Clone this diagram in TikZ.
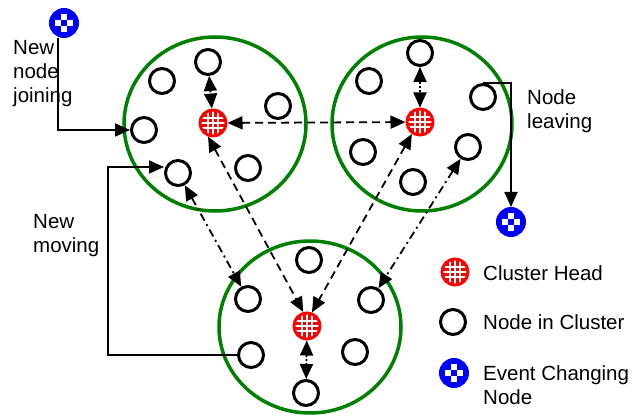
\documentclass[tikz,border=0pt]{standalone}
\usepackage{fontspec}
\setmainfont{Liberation Sans}
\usetikzlibrary{arrows.meta,calc}
\definecolor{grn}{RGB}{0,128,0}
\begin{document}
\begin{tikzpicture}[x=1pt,y=-1pt,
  cluster/.style={draw=grn,line width=3.5pt},
  nd/.style={circle,draw=black,line width=3pt,minimum size=25pt,inner sep=0pt},
  chead/.style={circle,draw=red,fill=red,line width=3pt,minimum size=26pt,inner sep=0pt,
    path picture={
      \foreach \d in {-5,0,5}{
        \draw[white,line width=1.1pt] ([xshift=\d pt]path picture bounding box.south) -- ([xshift=\d pt]path picture bounding box.north);
        \draw[white,line width=1.1pt] ([yshift=\d pt]path picture bounding box.west) -- ([yshift=\d pt]path picture bounding box.east);
      }}},
  evnode/.style={circle,draw=blue,fill=blue,line width=3pt,minimum size=27pt,inner sep=0pt,
    path picture={
      \fill[white] ([shift={(-3pt,3pt)}]path picture bounding box.center) rectangle ++(6,-6);
      \fill[white] ([shift={(-9pt,-3pt)}]path picture bounding box.center) rectangle ++(6,-6);
      \fill[white] ([shift={(3pt,-3pt)}]path picture bounding box.center) rectangle ++(6,-6);
      \fill[white] ([shift={(-3pt,-9pt)}]path picture bounding box.center) rectangle ++(6,-6);
    }},
  tip/.style={-{Triangle[length=15pt,width=13pt]}},
  dtip/.style={{Triangle[length=15pt,width=13pt]}-{Triangle[length=15pt,width=13pt]}},
  conn/.style={line width=1.8pt},
  dsh/.style={conn,dash pattern=on 8pt off 5pt},
  dshdot/.style={conn,dash pattern=on 8pt off 4pt on 2pt off 4pt},
  dot/.style={conn,dash pattern=on 2pt off 2pt},
  lbl/.style={font=\fontsize{20.5}{24}\selectfont,align=left,anchor=west,inner sep=0pt}
]
\useasboundingbox (0,0) rectangle (635,417);

% clusters
\draw[cluster] (215,124) ellipse [x radius=91, y radius=87];
\draw[cluster] (422,124) ellipse [x radius=90, y radius=87];
\draw[cluster] (310,327) ellipse [x radius=91, y radius=86];

% left cluster
\node[chead] (ch1) at (213,123) {};
\node[nd] (l1) at (208,62) {};
\node[nd] (l2) at (162,81) {};
\node[nd] (l3) at (278,106) {};
\node[nd] (l4) at (144,130) {};
\node[nd] (l5) at (178,173) {};
\node[nd] (l6) at (248,168) {};

% right cluster
\node[chead] (ch2) at (420,122) {};
\node[nd] (r1) at (420,53) {};
\node[nd] (r2) at (369,81) {};
\node[nd] (r3) at (483,97) {};
\node[nd] (r4) at (363,152) {};
\node[nd] (r5) at (468,147) {};
\node[nd] (r6) at (413,182) {};

% bottom cluster
\node[chead] (ch3) at (307,326) {};
\node[nd] (b1) at (309,260) {};
\node[nd] (b2) at (248,299) {};
\node[nd] (b3) at (371,300) {};
\node[nd] (b4) at (251,355) {};
\node[nd] (b5) at (355,352) {};
\node[nd] (b6) at (306,393) {};

% event nodes
\node[evnode] (e1) at (64,23) {};
\node[evnode] (e2) at (511,222) {};

% legend
\node[chead] (lg1) at (455,272) {};
\node[nd] (lg2) at (453,322) {};
\node[evnode] (lg3) at (454,373) {};
\node[lbl] (t4) at (483,273) {Cluster Head};
\node[lbl] (t5) at (483,322) {Node in Cluster};
\node[lbl] (t6) at (483,385) {Event Changing\\Node};

% labels
\node[lbl] (t1) at (13,74) {New\\node\\joining};
\node[lbl] (t2) at (33,236) {New\\moving};
\node[lbl] (t3) at (527,111) {Node\\leaving};

% connectors
\draw[conn,tip] ([xshift=-6pt]e1.south) |- (l4.west);
\coordinate (mv) at (108,167);
\draw[conn,tip] (b4.west) -| (mv) -- ([yshift=6pt]l5.west);
\draw[conn,tip] (r3.north) -| (e2.north);

\draw[dsh,dtip] (ch1) -- (ch2);
\draw[dsh,dtip] (ch1.250) -- (ch3.105);
\draw[dsh,dtip] (ch2.236) -- (ch3.70);

\draw[dshdot,dtip] (l5) -- (b2);
\draw[dshdot,dtip] (r5) -- (b3);

\draw[dot,dtip] (l1) -- (ch1);
\draw[dot,dtip] (r1) -- (ch2);
\draw[dot,dtip] (ch3) -- (b6);
\end{tikzpicture}
\end{document}
